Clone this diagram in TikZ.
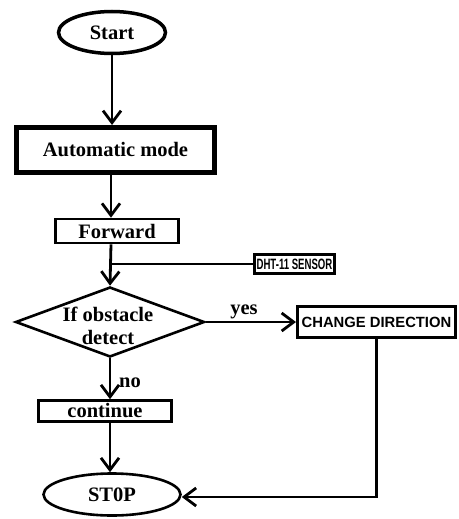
\documentclass[tikz,border=0pt]{standalone}
\usepackage{fontspec}
\setmainfont{Liberation Serif}
\newfontfamily\sansb{Liberation Sans}
\newfontfamily\narrowsans[FakeStretch=0.64]{Liberation Sans}
\usetikzlibrary{shapes.geometric,arrows.meta}
\begin{document}
\begin{tikzpicture}[x=1pt,y=-1pt,
  every node/.style={font=\bfseries\fontsize{20.5}{23}\selectfont, inner sep=0pt},
  ovalbox/.style={draw, ellipse, line width=2.6pt},
  procbox/.style={draw, rectangle, line width=2.6pt},
  decbox/.style={draw, diamond, line width=2.6pt, aspect=2.6},
  conn/.style={line width=2.8pt, -{Straight Barb[length=12pt,width=18pt]}},
  plainconn/.style={line width=2.8pt}]
\useasboundingbox[fill=white] (0,0) rectangle (458,519);
\coordinate (cx) at (111,0);
\node[ovalbox, line width=3.5pt, minimum width=107pt, minimum height=42pt] (start) at (112,32.5) {Start};
\node[procbox, line width=5pt, minimum width=198pt, minimum height=45pt] (auto) at (115.5,150) {Automatic mode};
\node[procbox, minimum width=123pt, minimum height=24pt] (fwd) at (117,231) {Forward};
\node[decbox, minimum width=189pt, minimum height=70pt] (dia) at (110,322) {};
\node[align=center] (diatext) at (108,326) {If obstacle\\detect};
\node[procbox, line width=3pt, minimum width=158pt, minimum height=31pt, font=\sansb\bfseries\fontsize{14.8}{18}\selectfont] (cd) at (376.5,322) {CHANGE DIRECTION};
\node[procbox, minimum width=80pt, minimum height=19pt, font=\narrowsans\bfseries\fontsize{15}{16}\selectfont] (dht) at (294.5,264) {DHT-11 SENSOR};
\node[procbox, minimum width=133pt, minimum height=21pt] (cont) at (105,411) {continue};
\node[ovalbox, minimum width=137pt, minimum height=42pt] (stop) at (112,494.5) {ST0P};
\node[anchor=base] (yes) at (244,314) {yes};
\node[anchor=base west] (no) at (119,387) {no};
\coordinate (j) at (dht.west -| cx);
\draw[conn] (start) -- (start |- auto.north);
\draw[conn] (auto.south -| cx) -- (fwd.north -| cx);
\draw[conn] (fwd.south -| cx) -- (dia.north);
\draw[plainconn] (j) -- (dht.west);
\draw[conn] (dia.east) -- (cd.west);
\draw[conn] (dia.south) -- (dia.south |- cont.north);
\draw[conn] (cont.south -| dia.south) -- (stop.north -| dia.south);
\draw[conn] (cd.south) -- (cd.south |- 0,497) -- (stop.east |- 0,497);
\end{tikzpicture}
\end{document}
